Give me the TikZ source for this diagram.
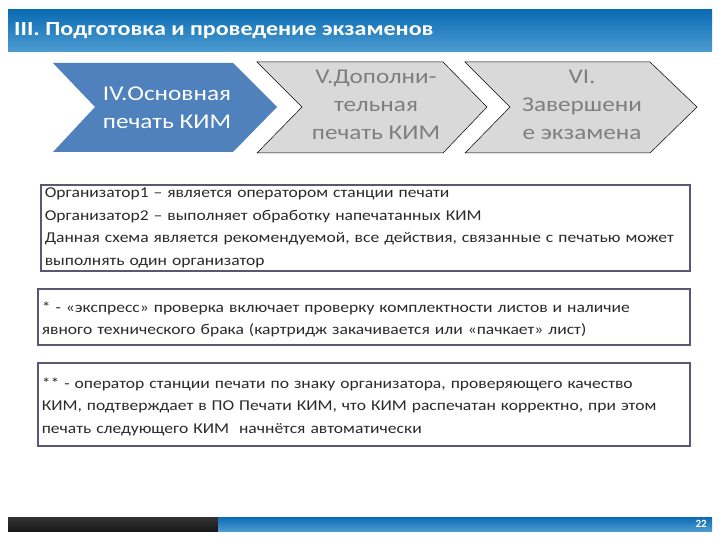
\documentclass[tikz,border=0pt]{standalone}
\usepackage{fontspec}
\setmainfont{Carlito}
\newfontfamily\widefont[FakeStretch=1.17]{Carlito}
\newfontfamily\titlefont[FakeStretch=1.2]{Carlito}
\begin{document}
\begin{tikzpicture}[x=1pt,y=-1pt,
  boxstyle/.style={draw=boxline, line width=1.6pt, anchor=north west, align=left, inner xsep=4pt, inner ysep=3pt, font=\widefont\fontsize{15}{22.5}\selectfont, text=txt},
  chevtext/.style={align=center, font=\titlefont\fontsize{21}{28}\selectfont}]
\definecolor{boxline}{HTML}{5E5573}
\definecolor{txt}{HTML}{2A2A2A}
\definecolor{chevblue}{HTML}{4F81BD}
\definecolor{chevgray}{HTML}{D9D9D9}
\definecolor{chevtxt}{HTML}{7F7F7F}
\definecolor{hdtop}{HTML}{0A6CB4}
\definecolor{hdbot}{HTML}{4D9BD0}
\useasboundingbox (0,0) rectangle (720,540);
\fill[white] (0,0) rectangle (720,540);
% header
\shade[top color=hdtop, bottom color=hdbot] (8,10) rectangle (712,52);
\node[anchor=west, text=white, font=\titlefont\fontsize{20}{22}\selectfont\bfseries, inner sep=0pt] (title) at (14,31) {III. Подготовка и проведение экзаменов};
% chevrons
\fill[chevblue] (53,63) -- (233,63) -- (277,107) -- (233,152) -- (53,152) -- (95,107) -- cycle;
\node[chevtext, text=white] (c1) at (167,108) {IV.Основная\\печать КИМ};
\filldraw[fill=chevgray, draw=black, line width=0.5pt] (257,62) -- (443,62) -- (487,107) -- (443,153) -- (257,153) -- (302,107) -- cycle;
\node[chevtext, text=chevtxt] (c2) at (376,105) {V.Дополни-\\тельная\\печать КИМ};
\filldraw[fill=chevgray, draw=black, line width=0.5pt] (465,62) -- (650,62) -- (697,107) -- (650,153) -- (465,153) -- (510,107) -- cycle;
\node[chevtext, text=chevtxt] (c3) at (582,105) {VI.\\Завершени\\е экзамена};
% boxes
\node[boxstyle, text width=641pt, minimum height=86pt] (b1) at (40,184) {Организатор1 – является оператором станции печати\\Организатор2 – выполняет обработку напечатанных КИМ\\Данная схема является рекомендуемой, все действия, связанные с печатью может\\выполнять один организатор};
\node[boxstyle, text width=644pt, minimum height=56pt] (b2) at (37,288) {\rule{0pt}{16pt}* - «экспресс» проверка включает проверку комплектности листов и наличие\\явного технического брака (картридж закачивается или «пачкает» лист)};
\node[boxstyle, text width=644pt, minimum height=83pt] (b3) at (37,362) {\rule{0pt}{15pt}** - оператор станции печати по знаку организатора, проверяющего качество\\КИМ, подтверждает в ПО Печати КИМ, что КИМ распечатан корректно, при этом\\печать следующего КИМ~~начнётся автоматически};
% footer
\shade[top color=black!80, bottom color=black!90] (8,517) rectangle (218,531);
\shade[top color=hdtop, bottom color=hdbot] (218,517) rectangle (712,531);
\node[anchor=east, text=white, font=\fontsize{11}{12}\selectfont\bfseries, inner sep=0pt] (pg) at (707,524) {22};
\end{tikzpicture}
\end{document}
